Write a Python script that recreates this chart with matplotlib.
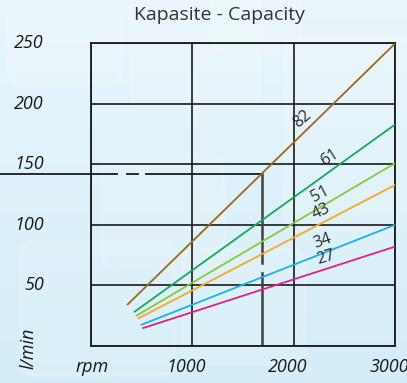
import numpy as np
import matplotlib
matplotlib.use("Agg")
import matplotlib.pyplot as plt
from matplotlib.patches import FancyBboxPatch
import matplotlib.transforms as mtransforms

# displacement (cm3/rev) per curve, with end points
displacement = ["82", "61", "51", "43", "34", "27"]
rpm_start = [358, 424, 446, 463, 493, 509]
flow_start = [33.6, 27.6, 24.6, 22.3, 17.1, 14.4]
rpm_end = [3000, 3000, 3000, 3000, 3000, 3000]
flow_end = [250, 183, 151, 133, 100, 82]
colors = ["#9a6a1c", "#18a857", "#8cc63f", "#f9a825", "#1ab0ee", "#e6207e"]
label_rpm = [2160, 2416, 2317, 2317, 2327, 2347]

x_ticks = [1000, 2000, 3000]
y_ticks = [50, 100, 150, 200, 250]

# reading example: 1690 rpm -> ~142 l/min
ref_rpm = 1690
ref_flow = 141.7

W, H = 407, 383
fig = plt.figure(figsize=(W / 100, H / 100), dpi=100)

# light blue background with a faint rounded-tile pattern
bg = fig.add_axes([0, 0, 1, 1], zorder=-10)
grad = np.linspace(0, 1, 256)[:, None] * np.ones((1, 4))
bg.imshow(grad, aspect="auto", extent=[0, 1, 0, 1], origin="upper",
          cmap=matplotlib.colors.LinearSegmentedColormap.from_list(
              "bgc", ["#e9f6fc", "#d4edf8"]))
for (x0, y0, w, h) in [(0.02, 0.78, 0.28, 0.2), (0.32, 0.72, 0.32, 0.3),
                       (0.52, 0.86, 0.22, 0.2), (0.70, 0.40, 0.32, 0.5),
                       (0.05, 0.02, 0.38, 0.35), (0.45, 0.05, 0.30, 0.3),
                       (0.25, 0.30, 0.30, 0.3)]:
    bg.add_patch(FancyBboxPatch((x0, y0), w, h, boxstyle="round,pad=0,rounding_size=0.04",
                                fc="white", ec="white", alpha=0.12, lw=3))
bg.set_xlim(0, 1); bg.set_ylim(0, 1)
bg.axis("off")

ax = fig.add_axes([90.7 / W, 1 - 345.7 / H, (395.3 - 90.7) / W, (345.7 - 43.3) / H])
ax.patch.set_alpha(0)
ax.set_xlim(0, 3000)
ax.set_ylim(0, 250)
for s in ax.spines.values():
    s.set_color("#1a1a1a"); s.set_linewidth(1.3)
ax.set_xticks([0, 1000, 2000, 3000])
ax.set_yticks([0] + y_ticks)
ax.grid(True, color="#1a1a1a", lw=1.2)
ax.tick_params(length=0, labelbottom=False, labelleft=False)

for rs, fs, re, fe, c in zip(rpm_start, flow_start, rpm_end, flow_end, colors):
    ax.plot([rs, re], [fs, fe], color=c, lw=1.3, solid_capstyle="butt", zorder=3)

# curve labels, rotated along the lines and nudged above them
fig.canvas.draw()
for name, rs, fs, re, fe, xr in zip(displacement, rpm_start, flow_start, rpm_end, flow_end, label_rpm):
    yr = fs + (fe - fs) * (xr - rs) / (re - rs)
    p0 = ax.transData.transform((rs, fs)); p1 = ax.transData.transform((re, fe))
    ang = np.degrees(np.arctan2(p1[1] - p0[1], p1[0] - p0[0]))
    off = 11
    dx, dy = -off * np.sin(np.radians(ang)), off * np.cos(np.radians(ang))
    ax.annotate(name, (xr, yr), xytext=(dx * 0.72, dy * 0.72), textcoords="offset points",
                rotation=ang * 0.92, ha="center", va="center", fontsize=11.5,
                color="#2a2a2a", family="Open Sans", zorder=4)

# reading example: dashed horizontal line from the figure edge, then down
blend = mtransforms.blended_transform_factory(fig.transFigure, ax.transData)
ax.plot([0, 117.3 / W], [ref_flow, ref_flow], transform=blend, color="#1a1a1a",
        lw=1.3, clip_on=False)
ax.plot([126.7 / W, 137.7 / W], [ref_flow, ref_flow], transform=blend, color="#1a1a1a",
        lw=1.3, clip_on=False)
ax.plot([(146 - 90.7) / 101.53 * 1000, ref_rpm], [ref_flow, ref_flow], color="#1a1a1a",
        lw=1.3)
ax.plot([ref_rpm, ref_rpm], [ref_flow, 68.4], color="#404040", lw=1.8)
ax.plot([ref_rpm, ref_rpm], [60.1, 0], color="#404040", lw=1.8)

txt = dict(family="Open Sans", style="italic", color="#1a1a1a", fontsize=13)
ylab = mtransforms.offset_copy(ax.transData, fig=fig, x=-47, y=0, units="dots")
for v in y_ticks:
    ax.text(0, v, str(v), transform=ylab, ha="right", va="center", **txt)
xlab = mtransforms.blended_transform_factory(ax.transData, fig.transFigure)
xlab = mtransforms.offset_copy(xlab, fig=fig, x=-6, y=0, units="dots")
for v in x_ticks:
    ax.text(v, 1 - 367 / H, str(v), transform=xlab, ha="center", va="center", **txt)
fig.text(91.7 / W, 1 - 367 / H, "rpm", ha="center", va="center", **txt)
fig.text(28 / W, 1 - 348 / H, "l/min", ha="center", va="center", rotation=90, **txt)

fig.text(219 / W, 1 - 15 / H, "Kapasite - Capacity", ha="center", va="center",
         family="Open Sans", fontsize=14, color="#333333")

fig.savefig("out.png", dpi=100)
